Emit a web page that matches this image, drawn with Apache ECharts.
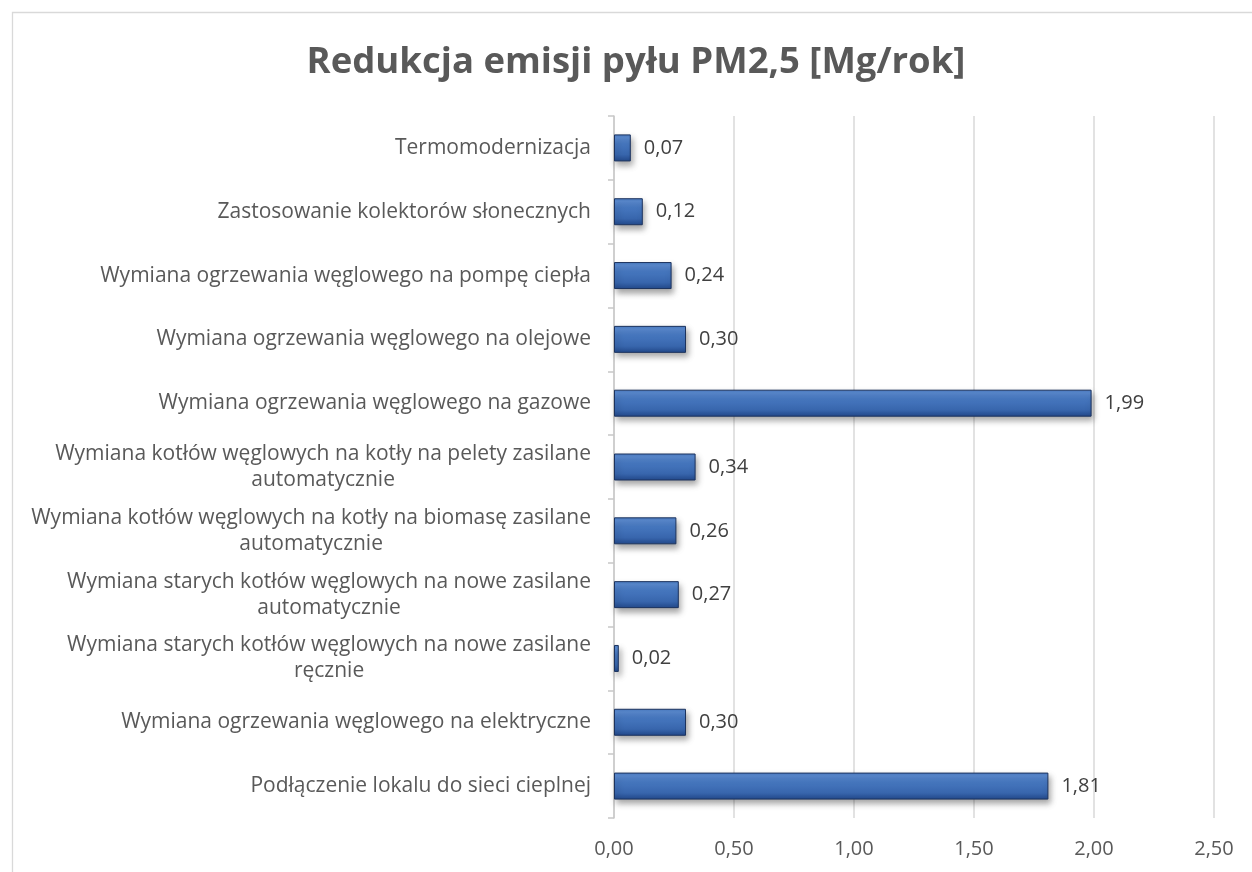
<!DOCTYPE html>
<html>
<head>
<meta charset="utf-8">
<style>
  html, body { margin: 0; padding: 0; background: #ffffff; }
  #chart { width: 1252px; height: 872px; }
</style>
<script src="https://cdn.jsdelivr.net/npm/echarts@6/dist/echarts.min.js"></script>
</head>
<body>
<div id="chart"></div>
<script>
// Categories listed top to bottom
const categories = [
  'Termomodernizacja',
  'Zastosowanie kolektorów słonecznych',
  'Wymiana ogrzewania węglowego na pompę ciepła',
  'Wymiana ogrzewania węglowego na olejowe',
  'Wymiana ogrzewania węglowego na gazowe',
  'Wymiana kotłów węglowych na kotły na pelety zasilane automatycznie',
  'Wymiana kotłów węglowych na kotły na biomasę zasilane automatycznie',
  'Wymiana starych kotłów węglowych na nowe zasilane automatycznie',
  'Wymiana starych kotłów węglowych na nowe zasilane ręcznie',
  'Wymiana ogrzewania węglowego na elektryczne',
  'Podłączenie lokalu do sieci cieplnej'
];

// PM2,5 emission reduction [Mg/rok]
const reduction = [0.07, 0.12, 0.24, 0.30, 1.99, 0.34, 0.26, 0.27, 0.02, 0.30, 1.81];

const titleText = 'Redukcja emisji pyłu PM2,5 [Mg/rok]';
const xMin = 0, xMax = 2.5, xStep = 0.5;

const FONT = '"Open Sans", "Noto Sans", sans-serif';
const fmt = v => v.toFixed(2).replace('.', ',');

// Long labels: move the last word to a second line
function wrapLabel(s) {
  if (s.length <= 50) return s;
  const i = s.lastIndexOf(' ');
  return s.slice(0, i) + '\n' + s.slice(i + 1);
}

const chart = echarts.init(document.getElementById('chart'), null, { renderer: 'canvas' });

chart.setOption({
  backgroundColor: '#ffffff',
  animation: false,
  graphic: [{
    type: 'rect',
    left: 10, top: 10,
    shape: { width: 1260, height: 880 },
    style: { fill: 'none', stroke: '#d9d9d9', lineWidth: 1.3 },
    silent: true,
    z: -1
  }],
  title: {
    text: titleText,
    left: 636,
    top: 44,
    padding: 0,
    textAlign: 'center',
    textStyle: { fontFamily: FONT, fontWeight: 'bold', fontSize: 36.5, color: '#595959' }
  },
  grid: { left: 614, right: 38, top: 116, bottom: 54, containLabel: false },
  xAxis: {
    type: 'value',
    min: xMin, max: xMax, interval: xStep,
    axisLine: { show: false },
    axisTick: { show: false },
    axisLabel: {
      margin: 21,
      fontFamily: FONT, fontSize: 20, color: '#595959',
      formatter: v => fmt(v)
    },
    splitLine: { lineStyle: { color: '#d9d9d9', width: 1.5 } }
  },
  yAxis: {
    type: 'category',
    inverse: true,
    data: categories,
    axisLine: { show: true, lineStyle: { color: '#c8c8c8', width: 1.5 } },
    axisTick: { show: true, length: 6, lineStyle: { color: '#c8c8c8', width: 1.5 } },
    axisLabel: {
      margin: 23,
      fontFamily: FONT, fontSize: 21, color: '#595959',
      formatter: v => '{c|' + wrapLabel(v) + '}',
      rich: { c: { align: 'center', fontFamily: FONT, fontSize: 21, color: '#595959', lineHeight: 26 } }
    }
  },
  series: [{
    type: 'bar',
    data: reduction,
    barWidth: 27,
    itemStyle: {
      color: new echarts.graphic.LinearGradient(0, 0, 0, 1, [
        { offset: 0, color: '#4a7bc2' },
        { offset: 0.12, color: '#5a8ad0' },
        { offset: 0.35, color: '#4677bf' },
        { offset: 0.75, color: '#3866ad' },
        { offset: 1, color: '#22488a' }
      ]),
      borderColor: '#1c335e',
      borderWidth: 1,
      shadowColor: 'rgba(0,0,0,0.35)',
      shadowBlur: 6,
      shadowOffsetX: 2,
      shadowOffsetY: 4
    },
    label: {
      show: true,
      position: 'right',
      distance: 13,
      fontFamily: FONT, fontSize: 20, color: '#404040',
      formatter: p => fmt(p.value)
    }
  }]
});
</script>
</body>
</html>
